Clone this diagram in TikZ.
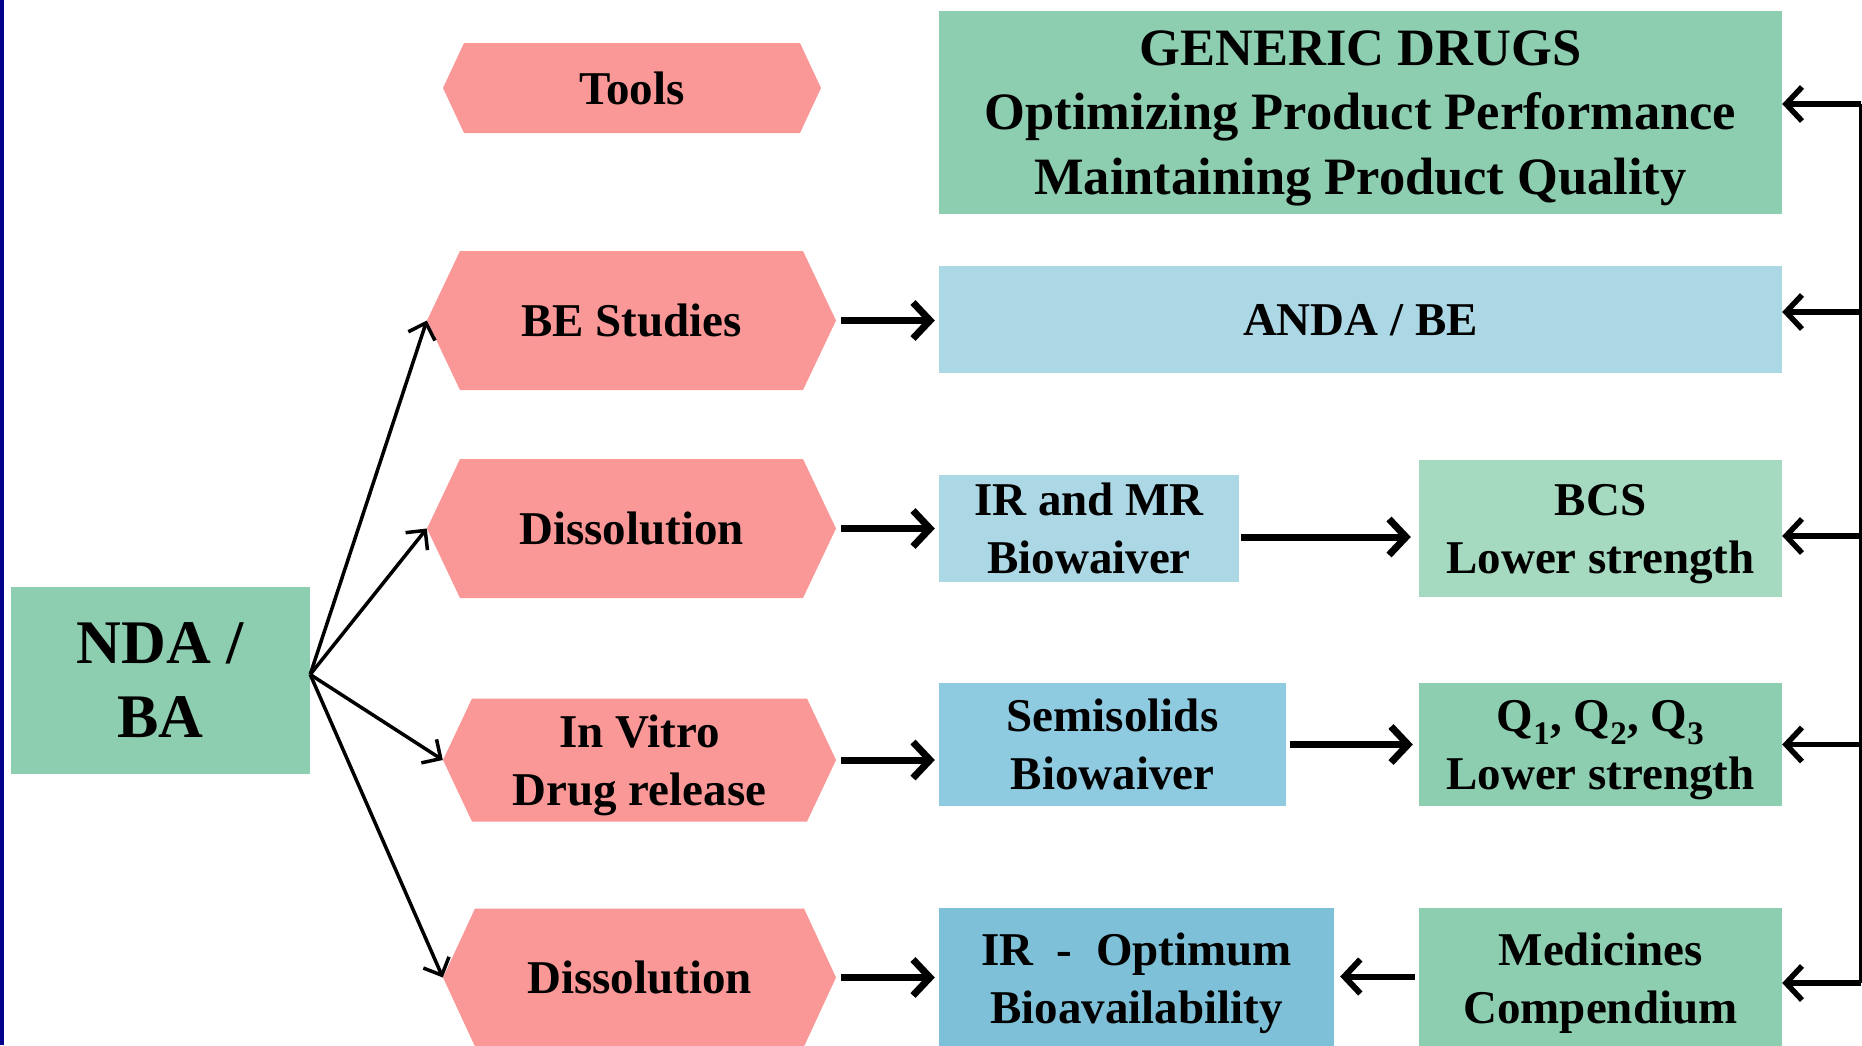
\documentclass[tikz,border=0pt]{standalone}
\usepackage{fontspec}
\setmainfont{Liberation Serif}
\usetikzlibrary{arrows.meta}
\definecolor{pinkc}{RGB}{250,152,152}
\definecolor{greenc}{RGB}{141,206,177}
\definecolor{lgreenc}{RGB}{166,218,192}
\definecolor{lbluec}{RGB}{172,216,230}
\definecolor{mbluec}{RGB}{142,202,224}
\definecolor{dbluec}{RGB}{125,192,215}
\definecolor{navyc}{RGB}{0,0,140}
\begin{document}
\begin{tikzpicture}[x=1pt,y=-1pt,
  box/.style={inner sep=0pt, align=center, text depth=0pt, font=\fontsize{47}{58}\selectfont\bfseries},
  hexa/.style={inner sep=0pt, align=center, text depth=0pt, font=\fontsize{47}{58}\selectfont\bfseries,
    path picture={\fill[pinkc] (path picture bounding box.west)
      -- ([xshift=#1]path picture bounding box.north west)
      -- ([xshift=-#1]path picture bounding box.north east)
      -- (path picture bounding box.east)
      -- ([xshift=-#1]path picture bounding box.south east)
      -- ([xshift=#1]path picture bounding box.south west) -- cycle;}},
  tarr/.style={line width=7pt, -{Straight Barb[length=17pt,width=36pt]}},
  marr/.style={line width=6pt, -{Straight Barb[length=16pt,width=34pt]}},
  rarr/.style={line width=5.5pt, -{Straight Barb[length=16pt,width=34pt]}},
  narr/.style={line width=3.5pt, -{Straight Barb[length=14pt,width=28pt]}},
  rail/.style={line width=3pt}]
\clip (0,0) rectangle (1862,1045);
\fill[white] (0,0) rectangle (1862,1045);
\fill[navyc] (0,0) rectangle (4,1045);

% boxes
\node[box, fill=greenc, minimum width=843pt, minimum height=203pt, text depth=-4pt,
      font=\fontsize{52.5}{64.5}\selectfont\bfseries] (gen) at (1360.5,112.5)
  {GENERIC DRUGS\\Optimizing Product Performance\\Maintaining Product Quality};
\node[box, fill=lbluec, minimum width=843pt, minimum height=107pt] (anda) at (1360.5,319.5) {ANDA / BE};
\node[box, fill=lbluec, minimum width=300pt, minimum height=107pt] (irmr) at (1089,528.5) {IR and MR\\Biowaiver};
\node[box, fill=lgreenc, minimum width=363pt, minimum height=137pt] (bcs) at (1600.5,528.5) {BCS\\Lower strength};
\node[box, fill=mbluec, minimum width=347pt, minimum height=123pt] (semi) at (1112.5,744.5) {Semisolids\\Biowaiver};
\node[box, fill=greenc, minimum width=363pt, minimum height=123pt] (qq) at (1600.5,744.5)
  {Q\textsubscript{1}, Q\textsubscript{2}, Q\textsubscript{3}\\Lower strength};
\node[box, fill=dbluec, minimum width=395pt, minimum height=141pt] (iro) at (1136.5,978.5) {IR\ \ -\ \ Optimum\\Bioavailability};
\node[box, fill=greenc, minimum width=363pt, minimum height=141pt] (med) at (1600.5,978.5) {Medicines\\Compendium};
\node[box, fill=greenc, minimum width=299pt, minimum height=187pt, text depth=-5pt,
      font=\fontsize{62}{74}\selectfont\bfseries] (nda) at (160.5,680.5) {NDA /\\BA};

% hexagons
\node[hexa=21pt, minimum width=378pt, minimum height=90pt] (tools) at (632,88) {Tools};
\node[hexa=33pt, minimum width=409pt, minimum height=139pt] (be) at (631.5,320.5) {BE Studies};
\node[hexa=33pt, minimum width=409pt, minimum height=139pt] (dis1) at (631.5,528.5) {Dissolution};
\node[hexa=29pt, minimum width=393pt, minimum height=123pt] (vitro) at (639.5,760) {In Vitro\\Drug release};
\node[hexa=32pt, minimum width=393pt, minimum height=138pt] (dis2) at (639.5,977.5) {Dissolution};

% NDA fan
\coordinate (fan) at ([yshift=6pt]nda.east);
\draw[narr] (fan) -- (be.west);
\draw[narr] (fan) -- (dis1.west);
\draw[narr] (fan) -- (vitro.west);
\draw[narr] (fan) -- (dis2.west);

% hexagon -> box
\draw[tarr, shorten <=5pt, shorten >=4pt] (be.east) -- (be.east -| anda.west);
\draw[tarr, shorten <=5pt, shorten >=4pt] (dis1.east) -- (dis1.east -| irmr.west);
\draw[tarr, shorten <=5pt, shorten >=4pt] (vitro.east) -- (vitro.east -| semi.west);
\draw[tarr, shorten <=5pt, shorten >=4pt] (dis2.east) -- (dis2.east -| iro.west);

% box -> box
\coordinate (a1) at ([yshift=-8.5pt]irmr.east);
\draw[tarr, shorten <=2pt, shorten >=8pt] (a1) -- (a1 -| bcs.west);
\draw[tarr, shorten <=4pt, shorten >=6pt] (semi.east) -- (qq.west);
\coordinate (a2) at ([yshift=2pt]med.west);
\draw[marr, shorten <=4pt, shorten >=6pt] (a2) -- (a2 -| iro.east);

% right rail
\coordinate (tgen) at ([yshift=8.5pt]gen.east);
\coordinate (tanda) at ([yshift=7.5pt]anda.east);
\coordinate (tbcs) at ([yshift=-7.5pt]bcs.east);
\coordinate (tq) at (qq.east);
\coordinate (tmed) at ([yshift=-4.5pt]med.east);
\coordinate (rtop) at (1860.5,104);
\coordinate (rbot) at (1860.5,983);
\draw[rail] (rtop) -- (tmed -| rbot);
\draw[rarr] (tgen -| rtop) -- (tgen);
\draw[rarr] (tanda -| rtop) -- (tanda);
\draw[rarr] (tbcs -| rtop) -- (tbcs);
\draw[rarr] (tq -| rtop) -- (tq);
\draw[rarr] (tmed -| rtop) -- (tmed);
\end{tikzpicture}
\end{document}
